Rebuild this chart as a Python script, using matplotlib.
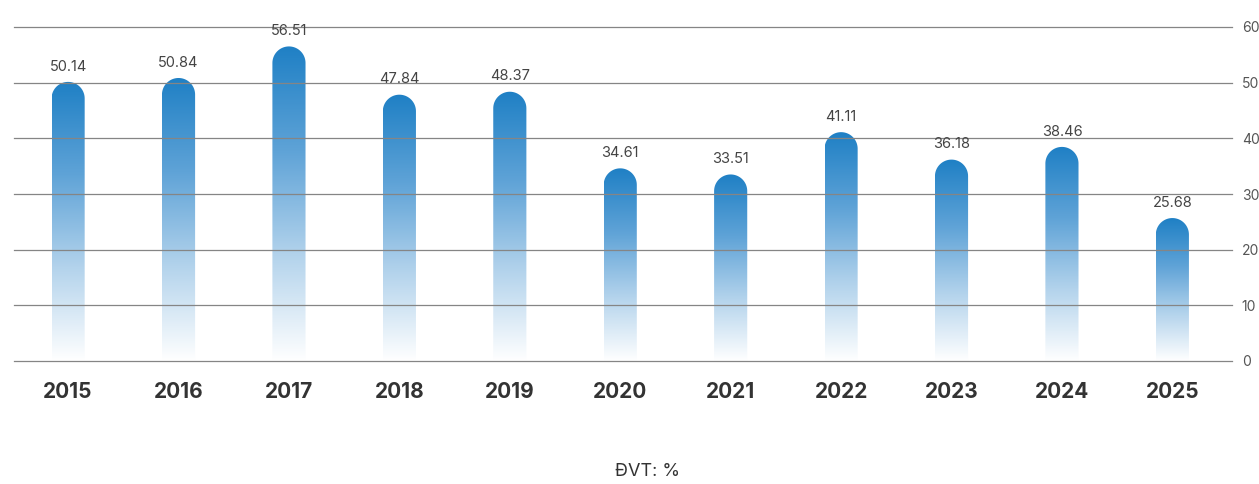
import numpy as np
import matplotlib.pyplot as plt
from matplotlib.path import Path
from matplotlib.patches import PathPatch
from matplotlib.colors import LinearSegmentedColormap

years = ['2015', '2016', '2017', '2018', '2019', '2020', '2021', '2022', '2023', '2024', '2025']
values = [50.14, 50.84, 56.51, 47.84, 48.37, 34.61, 33.51, 41.11, 36.18, 38.46, 25.68]
y_ticks = [0, 10, 20, 30, 40, 50, 60]

W, H, DPI = 1259, 484, 100
ax_l, ax_r, ax_t, ax_b = 14, 1232, 27, 361   # axes box in pixels

fig = plt.figure(figsize=(W / DPI, H / DPI), dpi=DPI)
ax = fig.add_axes([ax_l / W, (H - ax_b) / H, (ax_r - ax_l) / W, (ax_b - ax_t) / H])
ax.set_xlim(-0.49, len(years) - 0.46)
ax.set_ylim(0, 60)

cmap = LinearSegmentedColormap.from_list('bar', ['#ffffff', '#b3d3ec', '#5fa3d7', '#1f80c5'])
bw = 0.3
px_per_x = (ax_r - ax_l) / (len(years) + 0.03)
px_per_y = (ax_b - ax_t) / 60
r_x = bw / 2
r_y = (bw / 2) * px_per_x / px_per_y

grad = np.linspace(0, 1, 256).reshape(-1, 1)
for i, v in enumerate(values):
    x0, x1 = i - bw / 2, i + bw / 2
    cy = v - r_y
    th = np.linspace(np.pi, 0, 40)
    verts = [(x0, 0), (x0, cy)]
    verts += [(i + r_x * np.cos(t), cy + r_y * np.sin(t)) for t in th]
    verts += [(x1, 0), (x0, 0)]
    codes = [Path.MOVETO] + [Path.LINETO] * (len(verts) - 2) + [Path.CLOSEPOLY]
    patch = PathPatch(Path(verts, codes), facecolor='none', edgecolor='none')
    ax.add_patch(patch)
    im = ax.imshow(grad, extent=[x0, x1, 0, v], origin='lower', cmap=cmap,
                   aspect='auto', zorder=1, vmin=0, vmax=1)
    im.set_clip_path(patch)
    ax.annotate(f'{v:.2f}', (i, v), xytext=(0, 6), textcoords='offset points',
                ha='center', va='bottom', fontsize=10.5, color='#444444', family='Inter')

for t in y_ticks:
    ax.axhline(t, color='#858585', lw=0.9, zorder=2, clip_on=False)

ax.yaxis.tick_right()
ax.set_yticks(y_ticks)
ax.set_yticklabels([str(t) for t in y_ticks], fontsize=10, color='#555555', family='Inter')
ax.set_xticks(range(len(years)))
ax.set_xticklabels(years, fontsize=15, fontweight='bold', color='#333333', family='Inter')
ax.tick_params(axis='both', length=0)
ax.tick_params(axis='y', pad=7)
ax.tick_params(axis='x', pad=15)
for s in ax.spines.values():
    s.set_visible(False)

fig.text(647 / W, 1 - 472 / H, 'ĐVT: %', ha='center', va='center', fontsize=13,
         color='#333333', family='Inter')

fig.savefig('out.png', dpi=DPI)
